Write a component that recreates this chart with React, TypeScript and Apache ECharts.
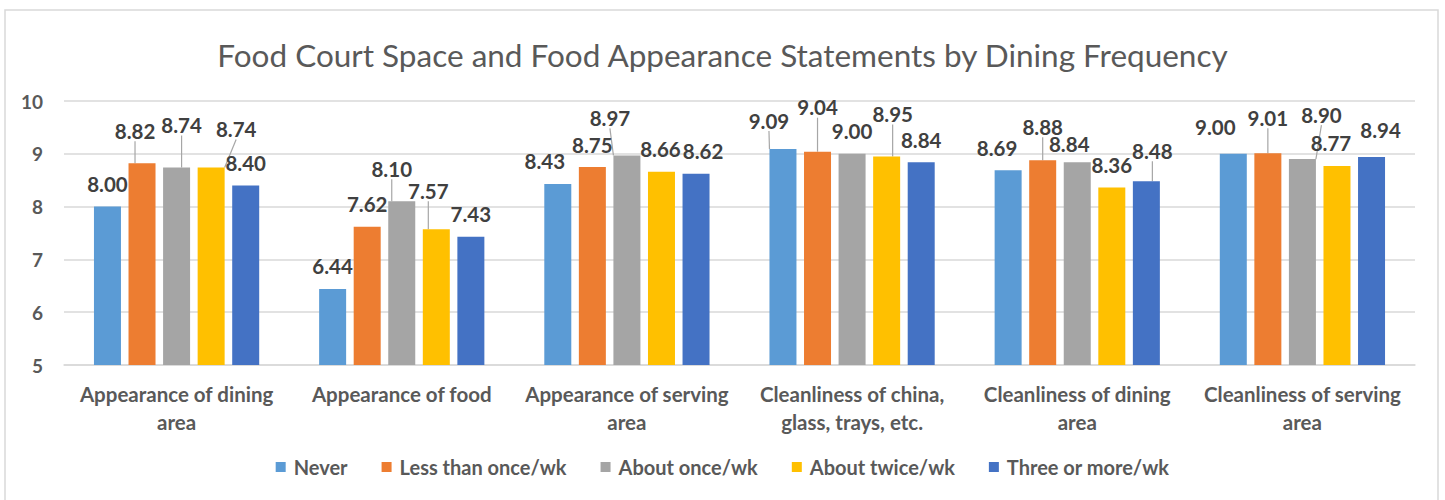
import React, { useEffect, useRef } from "react";
import * as echarts from "echarts";

const categories = [
  "Appearance of dining area",
  "Appearance of food",
  "Appearance of serving area",
  "Cleanliness of china, glass, trays, etc.",
  "Cleanliness of dining area",
  "Cleanliness of serving area",
];
const seriesNames = ["Never", "Less than once/wk", "About once/wk", "About twice/wk", "Three or more/wk"];
const never = [8.0, 6.44, 8.43, 9.09, 8.69, 9.0];
const lessThanOnce = [8.82, 7.62, 8.75, 9.04, 8.88, 9.01];
const aboutOnce = [8.74, 8.1, 8.97, 9.0, 8.84, 8.9];
const aboutTwice = [8.74, 7.57, 8.66, 8.95, 8.36, 8.77];
const threeOrMore = [8.4, 7.43, 8.62, 8.84, 8.48, 8.94];
const yTicks = [5, 6, 7, 8, 9, 10];

const colors = ["#5B9BD5", "#ED7D31", "#A5A5A5", "#FFC000", "#4472C4"];

// label nudges (pixels) mimicking manually moved labels, and whether a leader line is drawn
const labelShift: number[][][] = [
  [[0, 0], [0, 0], [-13, 0], [-14, -6], [-11, 0], [-18, -4]],
  [[-7, -10], [0, 0], [0, 0], [0, -22], [0, -11], [0, -13]],
  [[5, -20], [-10, -10], [-17, -15], [0, 0], [-8, 4], [19, -22]],
  [[25, -16], [-8, -16], [-1, 0], [6, -20], [0, 0], [-6, 0]],
  [[0, 0], [0, 0], [7, 0], [0, 0], [6, -8], [9, -4]],
];
const leader: boolean[][] = [
  [false, false, false, true, false, false],
  [true, false, false, true, true, true],
  [true, true, true, false, false, true],
  [true, true, false, true, false, false],
  [false, false, false, false, true, false],
];

const FONT = "Lato, 'Open Sans', sans-serif";

function wrap(text: string, maxChars: number): string {
  const words = text.split(" ");
  const lines: string[] = [];
  let cur = "";
  for (const w of words) {
    const next = cur ? cur + " " + w : w;
    if (next.length > maxChars && cur) {
      lines.push(cur);
      cur = w;
    } else {
      cur = next;
    }
  }
  if (cur) lines.push(cur);
  return lines.join("\n");
}

export default function App() {
  const ref = useRef<HTMLDivElement>(null);
  useEffect(() => {
    if (!ref.current) return;
    const chart = echarts.init(ref.current, undefined, { renderer: "svg" });
    const allValues = [never, lessThanOnce, aboutOnce, aboutTwice, threeOrMore];
    const series = allValues.map((vals, s) => ({
      name: seriesNames[s],
      type: "bar",
      barWidth: 27,
      barGap: "28%",
      itemStyle: { color: colors[s] },
      data: vals.map((v, i) => ({
        value: v,
        labelLine: { show: leader[s][i] },
      })),
      label: {
        show: true,
        position: "top",
        distance: 12,
        color: "#404040",
        fontFamily: FONT,
        fontWeight: "bold",
        fontSize: 20.5,
        formatter: (p: any) => Number(p.value).toFixed(2),
      },
      labelLine: {
        show: true,
        lineStyle: { color: "#A6A6A6", width: 1.2 },
      },
      labelLayout: (params: any) => {
        const sh = labelShift[s][params.dataIndex];
        if (!sh || (sh[0] === 0 && sh[1] === 0)) return {};
        return { dx: sh[0], dy: sh[1] };
      },
    }));

    chart.setOption({
      animation: false,
      textStyle: { fontFamily: FONT },
      title: {
        text: "Food Court Space and Food Appearance Statements by Dining Frequency",
        left: "center",
        top: 34,
        textStyle: { fontFamily: FONT, fontWeight: "normal", fontSize: 31.5, color: "#595959" },
      },
      graphic: [
        {
          type: "rect",
          shape: { x: 5, y: 10, width: 1433, height: 520 },
          style: { fill: "none", stroke: "#D9D9D9", lineWidth: 1.5 },
          silent: true,
        },
      ],
      legend: {
        bottom: 18,
        left: "center",
        itemWidth: 10,
        itemHeight: 10,
        itemGap: 34,
        icon: "rect",
        textStyle: {
          fontFamily: FONT,
          fontWeight: "bold",
          fontSize: 20,
          color: "#595959",
          padding: [0, 0, 0, 3],
        },
        data: seriesNames,
      },
      grid: { left: 64, right: 30, top: 101, bottom: 135 },
      xAxis: {
        type: "category",
        data: categories,
        axisLine: { lineStyle: { color: "#D9D9D9", width: 1.5 } },
        axisTick: { show: false },
        axisLabel: {
          color: "#595959",
          fontFamily: FONT,
          fontWeight: "bold",
          fontSize: 20.5,
          lineHeight: 28,
          margin: 15,
          interval: 0,
          formatter: (v: string) => wrap(v, 22),
        },
      },
      yAxis: {
        type: "value",
        min: yTicks[0],
        max: yTicks[yTicks.length - 1],
        interval: 1,
        axisLine: { show: false },
        axisTick: { show: false },
        splitLine: { lineStyle: { color: "#D9D9D9", width: 1.5 } },
        axisLabel: {
          color: "#595959",
          fontFamily: FONT,
          fontWeight: "bold",
          fontSize: 19,
          margin: 21,
        },
      },
      series,
    });
    return () => chart.dispose();
  }, []);
  return (
    <div
      ref={ref}
      style={{ position: "absolute", left: 0, top: 0, width: 1445, height: 500, background: "#fff" }}
    />
  );
}
